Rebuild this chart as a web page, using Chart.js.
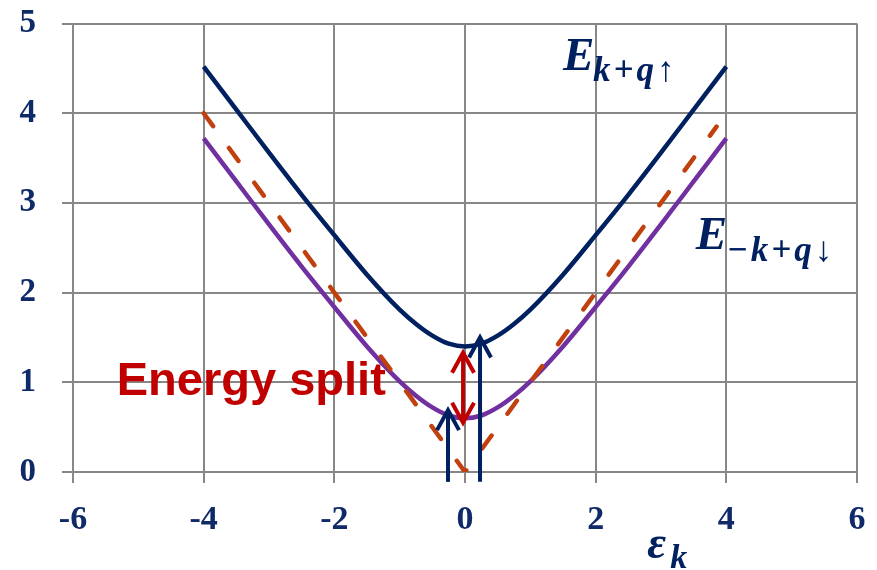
<!DOCTYPE html>
<html><head><meta charset="utf-8">
<script src="https://cdn.jsdelivr.net/npm/chart.js@4/dist/chart.umd.min.js"></script>
<style>html,body{margin:0;padding:0;background:#fff}#wrap{width:877px;height:570px}</style>
</head><body><div id="wrap"><canvas id="c" width="877" height="570"></canvas></div>
<script>
// Band energies versus epsilon_k
const epsK   = [-4,-3.5,-3,-2.5,-2,-1.5,-1,-0.75,-0.5,-0.25,0,0.25,0.5,0.75,1,1.5,2,2.5,3,3.5,4];
const upperE = [4.52,4.04,3.56,3.09,2.64,2.20,1.81,1.65,1.52,1.43,1.40,1.43,1.52,1.65,1.81,2.20,2.64,3.09,3.56,4.04,4.52];
const lowerE = [3.72,3.24,2.76,2.29,1.84,1.40,1.01,0.85,0.72,0.63,0.60,0.63,0.72,0.85,1.01,1.40,1.84,2.29,2.76,3.24,3.72];
// unsplit dispersion |eps|
const bareX = [-4, 0, 3.85];
const bareE = [4, 0, 3.85];
const xTicks = [-6,-4,-2,0,2,4,6];
const yTicks = [0,1,2,3,4,5];
// vertical transition arrows: [x, yFrom, yTo]
const spinArrows = [[-0.26,-0.11,0.69],[0.23,-0.11,1.5]];
// double arrow marking the gap: [x, yLow, yHigh]
const splitArrow = [-0.03, 0.55, 1.33];

const NAVY = '#002060', PURPLE = '#7030A0', RUST = '#C0410E', RED = '#C00000';
const GRID = '#878787', TICK = '#0f2a68';

const pts = (xs, ys) => xs.map((x, i) => ({x, y: ys[i]}));

function head(ctx, x, y, dir) {
  ctx.beginPath();
  ctx.moveTo(x - 11, y + dir * 20);
  ctx.lineTo(x, y);
  ctx.lineTo(x + 11, y + dir * 20);
  ctx.stroke();
}

const overlay = {
  id: 'overlay',
  beforeDatasetsDraw(chart) {
    const ctx = chart.ctx, xs = chart.scales.x, ys = chart.scales.y;
    ctx.save();
    ctx.fillStyle = RED;
    ctx.font = 'bold 47px "Liberation Sans", Arial, sans-serif';
    ctx.textAlign = 'left';
    ctx.textBaseline = 'alphabetic';
    ctx.fillText('Energy split', xs.getPixelForValue(-5.33), ys.getPixelForValue(0.86));
    ctx.restore();
  },
  afterDatasetsDraw(chart) {
    const ctx = chart.ctx, xs = chart.scales.x, ys = chart.scales.y;
    ctx.save();
    ctx.lineWidth = 4;
    ctx.lineCap = 'butt';
    ctx.lineJoin = 'miter';
    ctx.strokeStyle = NAVY;
    spinArrows.forEach(([x, y0, y1]) => {
      const px = xs.getPixelForValue(x), p0 = ys.getPixelForValue(y0), p1 = ys.getPixelForValue(y1);
      ctx.beginPath(); ctx.moveTo(px, p0); ctx.lineTo(px, p1 + 2); ctx.stroke();
      head(ctx, px, p1, 1);
    });
    ctx.strokeStyle = RED;
    const [rx, ra, rb] = splitArrow;
    const px = xs.getPixelForValue(rx), pa = ys.getPixelForValue(ra), pb = ys.getPixelForValue(rb);
    ctx.beginPath(); ctx.moveTo(px, pa - 2); ctx.lineTo(px, pb + 2); ctx.stroke();
    head(ctx, px, pb, 1);
    head(ctx, px, pa, -1);
    ctx.restore();
  },
  afterDraw(chart) {
    const ctx = chart.ctx, xs = chart.scales.x, ys = chart.scales.y;
    ctx.save();
    ctx.fillStyle = NAVY;
    ctx.textAlign = 'left';
    ctx.textBaseline = 'alphabetic';
    const big = 'bold italic 47px "Liberation Serif", serif';
    const sub = 'bold italic 35px "Liberation Serif", serif';
    // upper band label
    let x = xs.getPixelForValue(1.5), y = ys.getPixelForValue(4.48);
    ctx.font = big; ctx.letterSpacing = '0px'; ctx.fillText('E', x, y);
    ctx.font = sub; ctx.letterSpacing = '3px'; ctx.fillText('k+q\u2191', x + 30, y + 11);
    // lower band label
    x = xs.getPixelForValue(3.53); y = ys.getPixelForValue(2.49);
    ctx.font = big; ctx.letterSpacing = '0px'; ctx.fillText('E', x, y);
    ctx.font = sub; ctx.letterSpacing = '3px'; ctx.fillText('\u2212k+q\u2193', x + 31, y + 12);
    // axis title
    ctx.letterSpacing = '0px';
    x = xs.getPixelForValue(2.79); y = 558;
    ctx.font = 'bold italic 46px "Liberation Serif", serif'; ctx.fillText('\u03b5', x, y);
    ctx.font = 'bold italic 34px "Liberation Serif", serif'; ctx.fillText('k', x + 23, y + 10);
    ctx.restore();
  }
};

new Chart(document.getElementById('c'), {
  type: 'scatter',
  data: {
    datasets: [
      { data: pts(bareX, bareE), showLine: true, borderColor: RUST, borderWidth: 4.5,
        borderDash: [16, 27], borderCapStyle: 'round', pointRadius: 0, tension: 0 },
      { data: pts(epsK, lowerE), showLine: true, borderColor: PURPLE, borderWidth: 4.5,
        pointRadius: 0, cubicInterpolationMode: 'monotone' },
      { data: pts(epsK, upperE), showLine: true, borderColor: NAVY, borderWidth: 4.5,
        pointRadius: 0, cubicInterpolationMode: 'monotone' }
    ]
  },
  options: {
    responsive: false,
    animation: false,
    layout: { padding: { left: 0, right: 20, top: 23.5, bottom: 0 } },
    plugins: { legend: { display: false }, tooltip: { enabled: false } },
    scales: {
      x: {
        type: 'linear', min: -6, max: 6,
        afterBuildTicks: s => { s.ticks = xTicks.map(v => ({value: v})); },
        afterFit: s => { s.height = 98; s.paddingLeft = 0; s.paddingRight = 0; },
        grid: { color: GRID, lineWidth: 2, tickLength: 11, drawTicks: true },
        border: { color: GRID, width: 2 },
        ticks: { color: TICK, padding: 17, font: { family: '"Liberation Serif", serif', weight: 'bold', size: 34 },
          callback: v => String(v) }
      },
      y: {
        type: 'linear', min: 0, max: 5,
        afterBuildTicks: s => { s.ticks = yTicks.map(v => ({value: v})); },
        afterFit: s => { s.width = 73; s.paddingTop = 0; s.paddingBottom = 0; },
        grid: { color: GRID, lineWidth: 2, tickLength: 11, drawTicks: true },
        border: { color: GRID, width: 2 },
        ticks: { color: TICK, padding: 26, font: { family: '"Liberation Serif", serif', weight: 'bold', size: 33 },
          callback: v => String(v) }
      }
    }
  },
  plugins: [overlay]
});
</script>
</body></html>
